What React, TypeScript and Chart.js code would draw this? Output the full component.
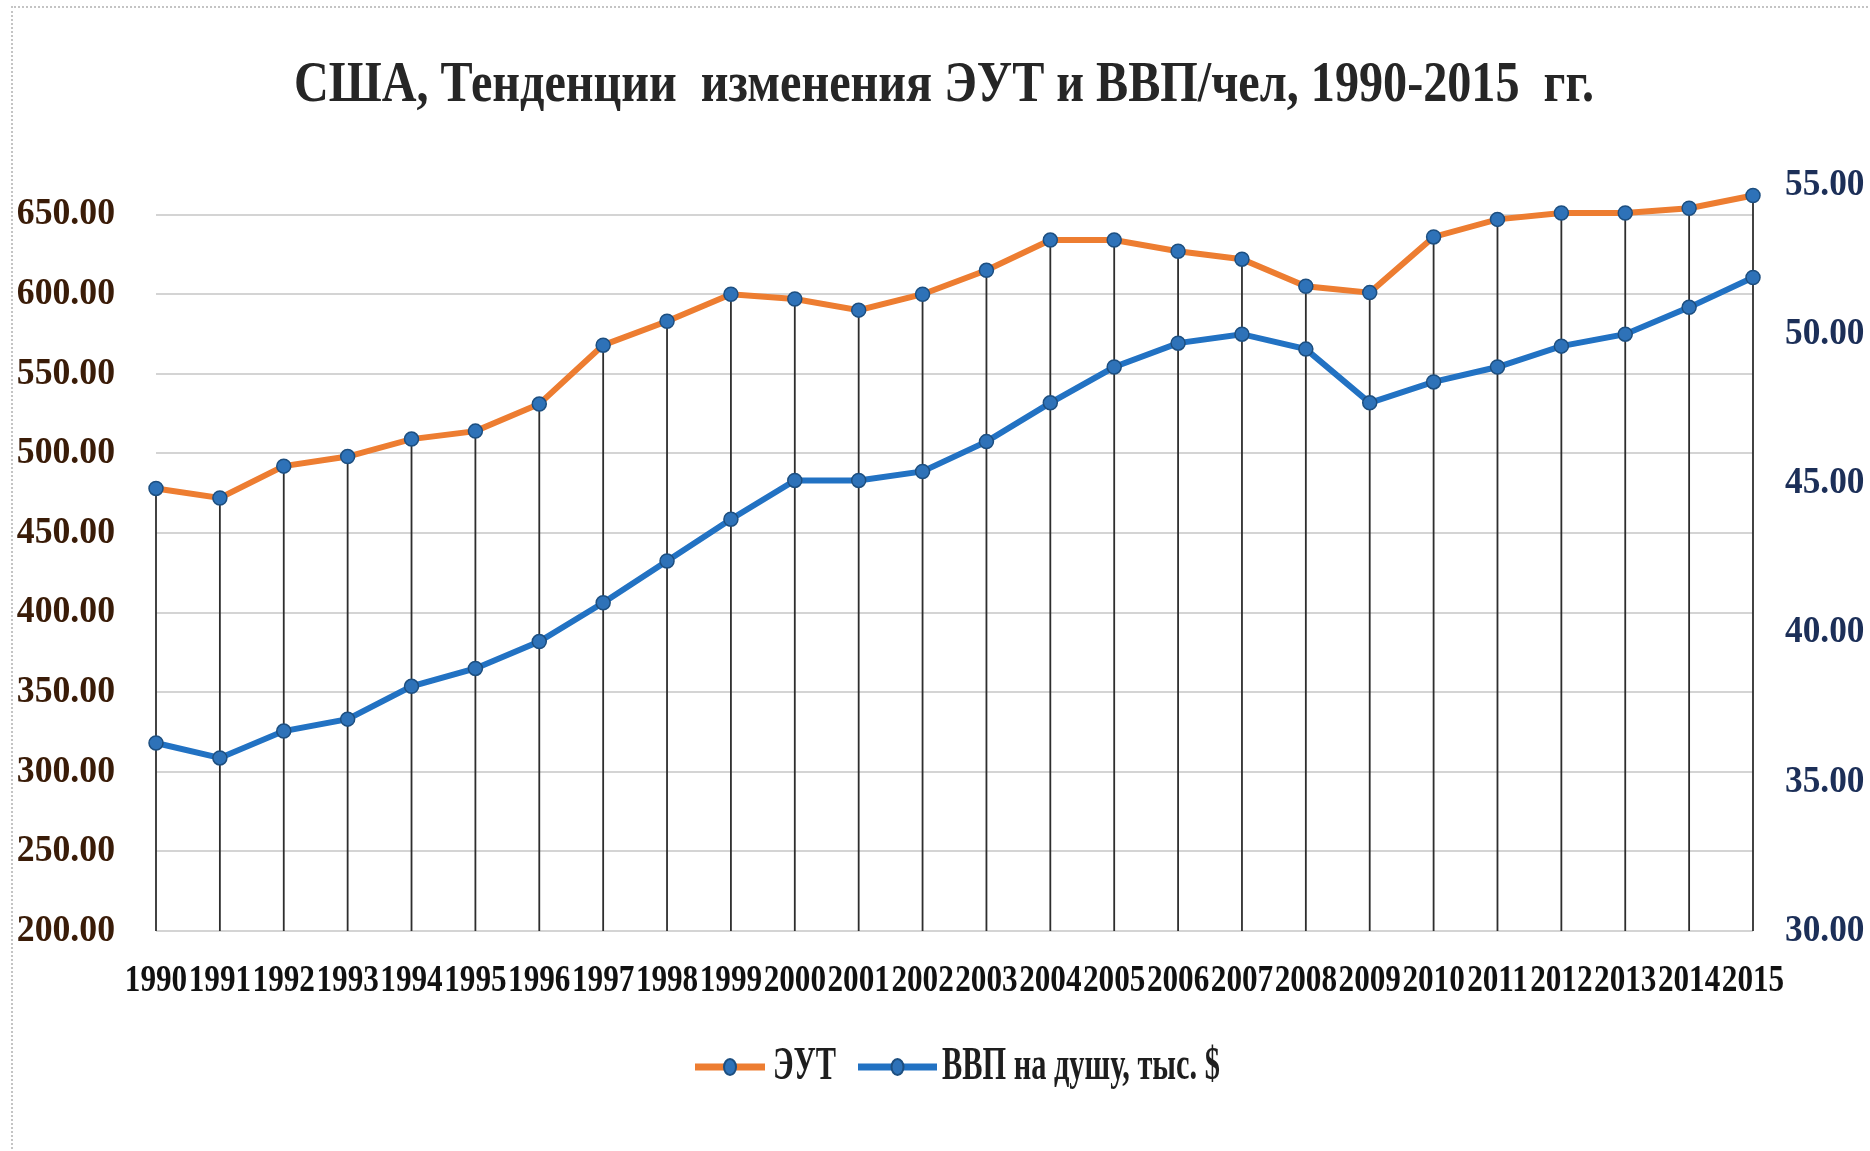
import React, { useEffect, useRef } from "react";
import { Chart, registerables } from "chart.js";

Chart.register(...registerables);

const TITLE = "США, Тенденции  изменения ЭУТ и ВВП/чел, 1990-2015  гг.";
const YEARS = [
  "1990", "1991", "1992", "1993", "1994", "1995", "1996", "1997", "1998", "1999",
  "2000", "2001", "2002", "2003", "2004", "2005", "2006", "2007", "2008", "2009",
  "2010", "2011", "2012", "2013", "2014", "2015",
];
const EUT_LABEL = "ЭУТ";
const EUT = [478, 472, 492, 498, 509, 514, 531, 568, 583, 600, 597, 590, 600, 615, 634, 634, 627, 622, 605, 601, 636, 647, 651, 651, 654, 662];
const GDP_LABEL = "ВВП на душу, тыс. $";
const GDP = [36.3, 35.8, 36.7, 37.1, 38.2, 38.8, 39.7, 41.0, 42.4, 43.8, 45.1, 45.1, 45.4, 46.4, 47.7, 48.9, 49.7, 50.0, 49.5, 47.7, 48.4, 48.9, 49.6, 50.0, 50.9, 51.9];
const LEFT_TICKS = [200, 250, 300, 350, 400, 450, 500, 550, 600, 650];
const RIGHT_TICKS = [30, 35, 40, 45, 50, 55];

const ORANGE = "#ed7d31";
const BLUE = "#2272c3";
const MARKER_FILL = "#2e72b8";
const MARKER_BORDER = "#1d4f80";
const SERIF = "'Liberation Serif', 'Times New Roman', serif";

function drawText(
  ctx: CanvasRenderingContext2D,
  text: string,
  x: number,
  y: number,
  align: CanvasTextAlign,
  sx: number,
  font: string,
  color: string
) {
  ctx.save();
  ctx.font = font;
  ctx.fillStyle = color;
  ctx.textBaseline = "middle";
  ctx.textAlign = align;
  ctx.translate(x, y);
  ctx.scale(sx, 1);
  ctx.fillText(text, 0, 0);
  ctx.restore();
}

const dropLines = {
  id: "dropLines",
  beforeDatasetsDraw(chart: any) {
    const ctx = chart.ctx as CanvasRenderingContext2D;
    const meta = chart.getDatasetMeta(0);
    const bottom = chart.chartArea.bottom;
    ctx.save();
    ctx.strokeStyle = "#2e2e2e";
    ctx.lineWidth = 1.8;
    meta.data.forEach((pt: any) => {
      ctx.beginPath();
      ctx.moveTo(pt.x, pt.y);
      ctx.lineTo(pt.x, bottom);
      ctx.stroke();
    });
    ctx.restore();
  },
};

const labelsPlugin = {
  id: "labelsPlugin",
  afterDraw(chart: any) {
    const ctx = chart.ctx as CanvasRenderingContext2D;
    const sy = chart.scales.y;
    const sy1 = chart.scales.y1;
    const sxs = chart.scales.x;
    const tickFont = `bold 38px ${SERIF}`;
    LEFT_TICKS.forEach((v) => {
      drawText(ctx, v.toFixed(2), 115, sy.getPixelForValue(v), "right", 0.94, tickFont, "#3a1c08");
    });
    RIGHT_TICKS.forEach((v) => {
      drawText(ctx, v.toFixed(2), 1785, sy1.getPixelForValue(v), "left", 0.93, tickFont, "#1c2f58");
    });
    YEARS.forEach((lab, i) => {
      drawText(ctx, lab, sxs.getPixelForValue(i), 981, "center", 0.82, tickFont, "#111111");
    });
    // title
    drawText(ctx, TITLE, 944, 87, "center", 0.86, `bold 56px ${SERIF}`, "#262626");
    // legend
    const legendY = 1067;
    const ds = chart.data.datasets;
    const items = [
      { x0: 695, x1: 765, tx: 773, ds: ds[0] },
      { x0: 858, x1: 937, tx: 942, ds: ds[1] },
    ];
    items.forEach((it) => {
      ctx.save();
      ctx.strokeStyle = it.ds.borderColor;
      ctx.lineWidth = 7;
      ctx.beginPath();
      ctx.moveTo(it.x0, legendY);
      ctx.lineTo(it.x1, legendY);
      ctx.stroke();
      ctx.fillStyle = MARKER_FILL;
      ctx.strokeStyle = MARKER_BORDER;
      ctx.lineWidth = 2;
      ctx.beginPath();
      ctx.ellipse((it.x0 + it.x1) / 2, legendY, 6, 8, 0, 0, Math.PI * 2);
      ctx.fill();
      ctx.stroke();
      ctx.restore();
      drawText(ctx, it.ds.label, it.tx, legendY, "left", 0.66, `bold 46px ${SERIF}`, "#1e1e1e");
    });
  },
};

export default function App() {
  const ref = useRef<HTMLCanvasElement>(null);
  useEffect(() => {
    if (!ref.current) return;
    const chart = new Chart(ref.current, {
      type: "line",
      data: {
        labels: YEARS,
        datasets: [
          {
            label: EUT_LABEL,
            data: EUT,
            yAxisID: "y",
            borderColor: ORANGE,
            backgroundColor: ORANGE,
            borderWidth: 6,
            pointRadius: 7,
            pointBackgroundColor: MARKER_FILL,
            pointBorderColor: MARKER_BORDER,
            pointBorderWidth: 1.5,
            tension: 0,
          },
          {
            label: GDP_LABEL,
            data: GDP,
            yAxisID: "y1",
            borderColor: BLUE,
            backgroundColor: BLUE,
            borderWidth: 6,
            pointRadius: 7,
            pointBackgroundColor: MARKER_FILL,
            pointBorderColor: MARKER_BORDER,
            pointBorderWidth: 1.5,
            tension: 0,
          },
        ],
      },
      options: {
        responsive: false,
        devicePixelRatio: 1,
        animation: false,
        layout: { padding: { left: 156, right: 117, top: 185, bottom: 220 } },
        plugins: {
          legend: { display: false },
          title: { display: false },
          tooltip: { enabled: false },
        },
        scales: {
          x: {
            type: "category",
            display: false,
            offset: false,
          },
          y: {
            type: "linear",
            position: "left",
            min: 200,
            max: 668.6,
            ticks: { display: false, stepSize: 50 },
            afterBuildTicks: (axis: any) => {
              axis.ticks = LEFT_TICKS.map((v) => ({ value: v }));
            },
            grid: { color: "#d4d4d4", lineWidth: 2, drawTicks: false },
            border: { display: false },
          },
          y1: {
            type: "linear",
            position: "right",
            min: 30,
            max: 55,
            display: false,
            afterBuildTicks: (axis: any) => {
              axis.ticks = RIGHT_TICKS.map((v) => ({ value: v }));
            },
            grid: { display: false },
          },
        },
      },
      plugins: [dropLines, labelsPlugin],
    });
    return () => chart.destroy();
  }, []);

  return (
    <div
      style={{
        position: "fixed",
        left: 0,
        top: 0,
        width: 1870,
        height: 1151,
        overflow: "hidden",
        background: "#ffffff",
      }}
    >
      <div
        style={{
          position: "absolute",
          left: 11,
          top: 6,
          right: -10,
          bottom: -10,
          borderTop: "2px dotted #c4c4c4",
          borderLeft: "2px dotted #c4c4c4",
        }}
      />
      <canvas
        ref={ref}
        width={1870}
        height={1151}
        style={{ position: "absolute", left: 0, top: 0, width: 1870, height: 1151 }}
      />
    </div>
  );
}
